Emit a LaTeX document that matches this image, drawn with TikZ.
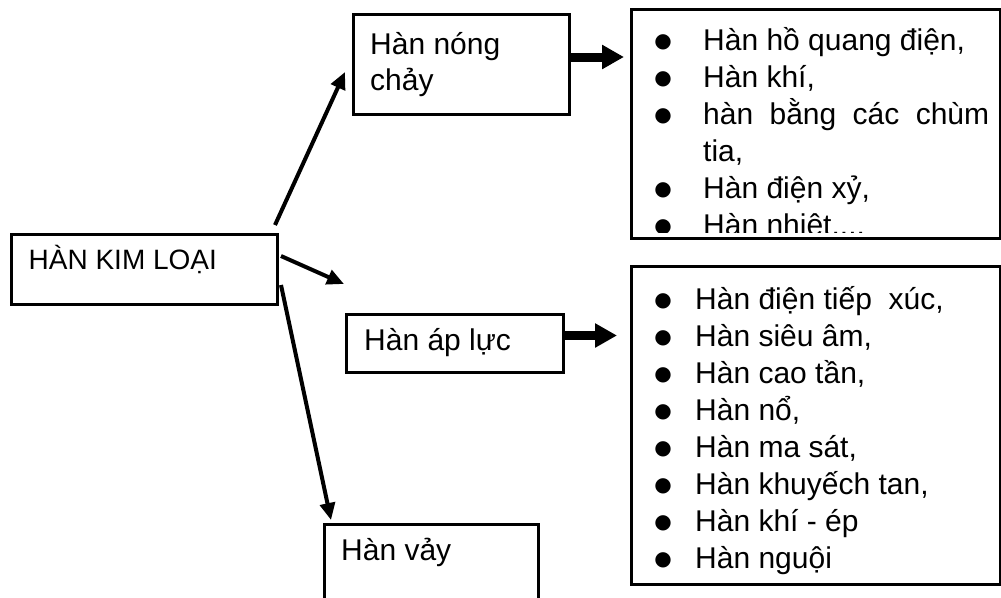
\documentclass[tikz,border=0pt]{standalone}
\usepackage{fontspec}
\setmainfont{Liberation Sans}
\newfontfamily\symfont{DejaVu Sans}
\usetikzlibrary{arrows.meta}

% bullet glyph, centred #1 to the left of the item text
\newcommand\bulletmark{\raisebox{3pt}{\symfont\fontsize{20}{22}\selectfont ●}}
\newcommand\itembul[1]{\leavevmode\llap{\makebox[0pt]{\bulletmark}\hspace{#1}}}
% paragraph settings for the bullet lists
\newcommand\listsetup{\parindent=0pt\tolerance=9999\hyphenpenalty=10000\baselineskip=37pt}

\begin{document}
\begin{tikzpicture}[x=1pt,y=-1pt,
  box/.style={draw, line width=3pt, inner sep=0pt, anchor=north west},
  lbl/.style={anchor=base west, inner sep=0pt, font=\fontsize{30}{37}\selectfont},
  linkarrow/.style={line width=4pt, -{Triangle[length=17pt,width=15pt]}},
  fatarrow/.style={line width=9pt, -{Triangle[length=22pt,width=23pt]}}]

\useasboundingbox (0,0) rectangle (1001,597);
\fill[white] (0,0) rectangle (1001,597);
\clip (0,0) rectangle (1001,597);

% boxes
\node[box, minimum width=266pt, minimum height=70pt]  (kl) at (10,233)  {};
\node[box, minimum width=216pt, minimum height=100pt] (nc) at (352,13)  {};
\node[box, minimum width=217pt, minimum height=58pt]  (al) at (345,313) {};
\node[box, minimum width=214pt, minimum height=97pt]  (vy) at (323,523) {};
\node[box, minimum width=369pt, minimum height=229pt] (l1) at (630,8)   {};
\node[box, minimum width=369pt, minimum height=318pt] (l2) at (630,265) {};

% box labels
\node[lbl, font=\fontsize{28}{34}\selectfont] (klt) at (28.5,269) {HÀN KIM LOẠI};
\node[lbl] (nct) at (370,54) {\vtop{\hsize=190pt\parindent=0pt\baselineskip=36pt Hàn nóng\par chảy\par}};
\node[lbl] (alt) at (364,350) {Hàn áp lực};
\node[lbl] (vyt) at (341,560) {Hàn vảy};

% first list, cut off at the bottom of its frame
\begin{scope}
  \clip (631.5,9.5) rectangle (997.5,232);
  \node[lbl] (l1t) at (703,50) {\vtop{\hsize=286pt\listsetup
    \itembul{40pt}Hàn hồ quang điện,\par
    \itembul{40pt}Hàn khí,\par
    \itembul{40pt}hàn bằng các chùm tia,\par
    \itembul{40pt}Hàn điện xỷ,\par
    \itembul{40pt}Hàn nhiệt....\par}};
\end{scope}

% second list
\node[lbl] (l2t) at (695,309) {\vtop{\hsize=290pt\listsetup
    \itembul{32pt}Hàn điện tiếp~ xúc,\par
    \itembul{32pt}Hàn siêu âm,\par
    \itembul{32pt}Hàn cao tần,\par
    \itembul{32pt}Hàn nổ,\par
    \itembul{32pt}Hàn ma sát,\par
    \itembul{32pt}Hàn khuyếch tan,\par
    \itembul{32pt}Hàn khí - ép\par
    \itembul{32pt}Hàn nguội\par}};

% arrow ends
\coordinate (a1s) at (275,225);
\coordinate (a1e) at (345,72);
\coordinate (a2s) at (281,256);
\coordinate (a2e) at (344,284);
\coordinate (a3s) at (281,285);
\coordinate (a3e) at (331,520);
\coordinate (b1e) at (624,57);
\coordinate (b2e) at (617,335.5);

% connectors
\draw[linkarrow] (a1s) -- (a1e);
\draw[linkarrow] (a2s) -- (a2e);
\draw[linkarrow] (a3s) -- (a3e);
\draw[fatarrow] (nc.east |- b1e) -- (b1e);
\draw[fatarrow] (al.east |- b2e) -- (b2e);

\end{tikzpicture}
\end{document}
